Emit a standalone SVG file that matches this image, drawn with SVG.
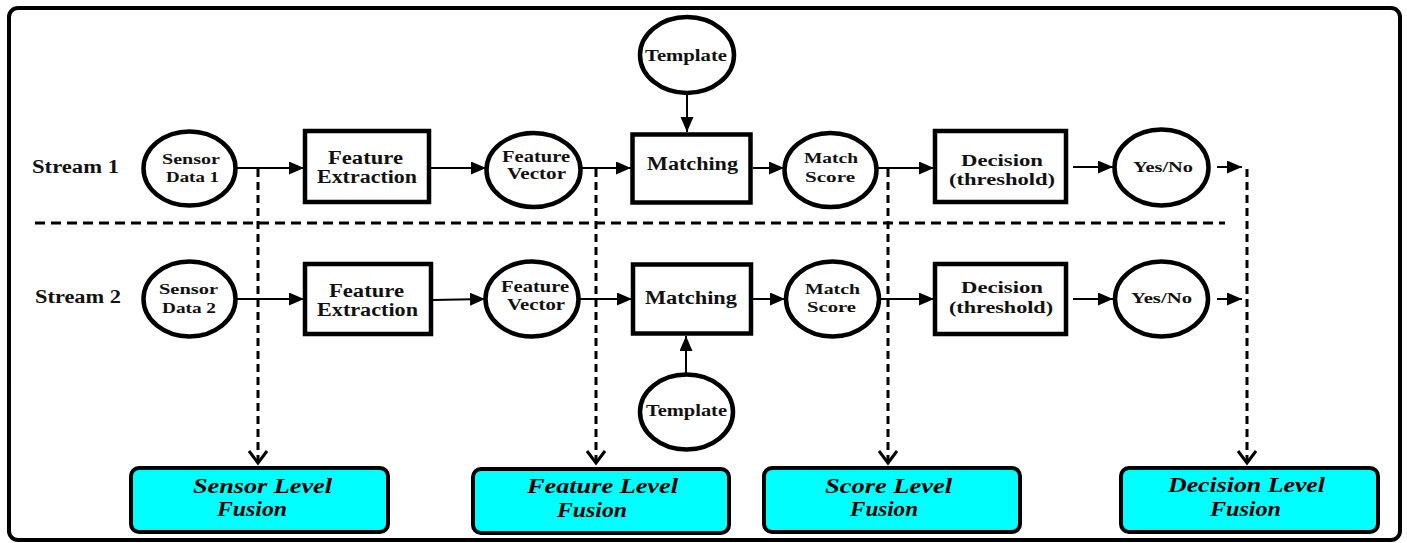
<svg xmlns="http://www.w3.org/2000/svg" width="1407" height="543" viewBox="0 0 1407 543">
<style>
.node{fill:#fff;stroke:#000;stroke-width:4.5}
.fus{fill:#00ffff;stroke:#000;stroke-width:4}
.t{font-family:"Liberation Serif","Times New Roman",serif;font-weight:bold;fill:#111}
.f{font-family:"Liberation Serif","Times New Roman",serif;font-weight:bold;font-style:italic;fill:#000;font-size:22px}
.a{stroke:#000;stroke-width:2;fill:none;marker-end:url(#ah)}
.d{stroke:#000;stroke-width:3;fill:none;stroke-dasharray:8 5;marker-end:url(#oh)}
</style>
<defs>
<marker id="ah" markerUnits="userSpaceOnUse" markerWidth="16" markerHeight="14" refX="15" refY="6.5" orient="auto"><path d="M0,0 L15,6.5 L0,13 z" fill="#000"/></marker>
<marker id="oh" markerUnits="userSpaceOnUse" markerWidth="16" markerHeight="24" refX="13" refY="10" orient="auto"><path d="M1,1 L13,10 L1,19" fill="none" stroke="#000" stroke-width="3"/></marker>
</defs>
<rect x="0" y="0" width="1407" height="543" fill="#fff"/>
<rect x="9" y="8" width="1391" height="532" rx="9" fill="none" stroke="#000" stroke-width="4"/>
<g id="labels">
<text class="t" x="32" y="173" font-size="18" textLength="87" lengthAdjust="spacingAndGlyphs">Stream 1</text>
<text class="t" x="35" y="303" font-size="18" textLength="86" lengthAdjust="spacingAndGlyphs">Stream 2</text>
</g>
<g id="divider"><line x1="35" y1="223" x2="1225" y2="223" stroke="#000" stroke-width="3" stroke-dasharray="10 6"/></g>
<g id="connectors">
<line class="a" x1="237" y1="168" x2="304" y2="168"/>
<line class="a" x1="431" y1="168" x2="486" y2="168"/>
<line class="a" x1="582" y1="168" x2="631" y2="168"/>
<line class="a" x1="753" y1="168" x2="784" y2="168"/>
<line class="a" x1="878" y1="168" x2="934" y2="168"/>
<line class="a" x1="1073" y1="167" x2="1113" y2="167"/>
<line class="a" x1="1217" y1="167" x2="1242" y2="167"/>
<line class="a" x1="687" y1="94" x2="687" y2="132"/>
<line class="a" x1="237" y1="299" x2="304" y2="299"/>
<line class="a" x1="433" y1="300" x2="485" y2="299"/>
<line class="a" x1="580" y1="299" x2="632" y2="299"/>
<line class="a" x1="753" y1="299" x2="785" y2="299"/>
<line class="a" x1="881" y1="299" x2="934" y2="299"/>
<line class="a" x1="1073" y1="299" x2="1113" y2="299"/>
<line class="a" x1="1217" y1="299" x2="1242" y2="299"/>
<line class="a" x1="686" y1="373" x2="686" y2="336"/>
<line class="d" x1="258" y1="169" x2="258" y2="463"/>
<line class="d" x1="596" y1="169" x2="596" y2="463"/>
<line class="d" x1="888" y1="169" x2="888" y2="463"/>
<line class="d" x1="1247" y1="169" x2="1247" y2="463"/>
</g>
<g id="sensor1"><ellipse class="node" cx="189.5" cy="168.5" rx="46" ry="37"/>
<text class="t" font-size="15" x="162" y="164" textLength="58" lengthAdjust="spacingAndGlyphs">Sensor</text>
<text class="t" font-size="15" x="166" y="182" textLength="53" lengthAdjust="spacingAndGlyphs">Data 1</text></g>
<g id="fe1"><rect class="node" x="305" y="131" width="124" height="71"/>
<text class="t" font-size="18" x="328" y="164" textLength="75" lengthAdjust="spacingAndGlyphs">Feature</text>
<text class="t" font-size="18" x="317" y="183" textLength="100" lengthAdjust="spacingAndGlyphs">Extraction</text></g>
<g id="fv1"><ellipse class="node" cx="533.5" cy="170" rx="47" ry="37"/>
<text class="t" font-size="16" x="502" y="162" textLength="68" lengthAdjust="spacingAndGlyphs">Feature</text>
<text class="t" font-size="16" x="507" y="179" textLength="59" lengthAdjust="spacingAndGlyphs">Vector</text></g>
<g id="tpl1"><ellipse class="node" cx="687" cy="55" rx="47" ry="38"/>
<text class="t" font-size="16" x="645" y="61" textLength="82" lengthAdjust="spacingAndGlyphs">Template</text></g>
<g id="match1"><rect class="node" x="632.5" y="134.5" width="118" height="68"/>
<text class="t" font-size="18" x="647" y="170" textLength="91" lengthAdjust="spacingAndGlyphs">Matching</text></g>
<g id="ms1"><ellipse class="node" cx="830.5" cy="170" rx="46" ry="37"/>
<text class="t" font-size="15" x="804" y="163" textLength="54" lengthAdjust="spacingAndGlyphs">Match</text>
<text class="t" font-size="15" x="805" y="182" textLength="50" lengthAdjust="spacingAndGlyphs">Score</text></g>
<g id="dec1"><rect class="node" x="935" y="131" width="131" height="71"/>
<text class="t" font-size="16" x="961" y="166" textLength="82" lengthAdjust="spacingAndGlyphs">Decision</text>
<text class="t" font-size="16" x="949" y="185" textLength="106" lengthAdjust="spacingAndGlyphs">(threshold)</text></g>
<g id="yn1"><ellipse class="node" cx="1161.5" cy="167.5" rx="47" ry="38"/>
<text class="t" font-size="15" x="1133" y="172" textLength="60" lengthAdjust="spacingAndGlyphs">Yes/No</text></g>
<g id="sensor2"><ellipse class="node" cx="189.5" cy="299" rx="46" ry="37.5"/>
<text class="t" font-size="15" x="159" y="294" textLength="59" lengthAdjust="spacingAndGlyphs">Sensor</text>
<text class="t" font-size="15" x="162" y="313" textLength="54" lengthAdjust="spacingAndGlyphs">Data 2</text></g>
<g id="fe2"><rect class="node" x="305" y="264" width="126" height="70"/>
<text class="t" font-size="18" x="329" y="297" textLength="75" lengthAdjust="spacingAndGlyphs">Feature</text>
<text class="t" font-size="18" x="317" y="316" textLength="101" lengthAdjust="spacingAndGlyphs">Extraction</text></g>
<g id="fv2"><ellipse class="node" cx="532" cy="299" rx="46.5" ry="37.5"/>
<text class="t" font-size="16" x="501" y="292" textLength="68" lengthAdjust="spacingAndGlyphs">Feature</text>
<text class="t" font-size="16" x="507" y="310" textLength="58" lengthAdjust="spacingAndGlyphs">Vector</text></g>
<g id="match2"><rect class="node" x="633" y="264.5" width="118" height="69"/>
<text class="t" font-size="18" x="645" y="304" textLength="92" lengthAdjust="spacingAndGlyphs">Matching</text></g>
<g id="tpl2"><ellipse class="node" cx="686.5" cy="412" rx="46.5" ry="37.5"/>
<text class="t" font-size="16" x="646" y="416" textLength="81" lengthAdjust="spacingAndGlyphs">Template</text></g>
<g id="ms2"><ellipse class="node" cx="832.5" cy="299" rx="46.5" ry="37.5"/>
<text class="t" font-size="15" x="805" y="294" textLength="55" lengthAdjust="spacingAndGlyphs">Match</text>
<text class="t" font-size="15" x="807" y="312" textLength="49" lengthAdjust="spacingAndGlyphs">Score</text></g>
<g id="dec2"><rect class="node" x="935" y="264" width="131" height="70"/>
<text class="t" font-size="16" x="961" y="293" textLength="82" lengthAdjust="spacingAndGlyphs">Decision</text>
<text class="t" font-size="16" x="949" y="313" textLength="104" lengthAdjust="spacingAndGlyphs">(threshold)</text></g>
<g id="yn2"><ellipse class="node" cx="1161.5" cy="299" rx="46.5" ry="37.5"/>
<text class="t" font-size="15" x="1131" y="303" textLength="61" lengthAdjust="spacingAndGlyphs">Yes/No</text></g>
<g id="fusion-sensor"><rect class="fus" x="131" y="468" width="257" height="64" rx="8"/>
<text class="f" x="193" y="493" textLength="139" lengthAdjust="spacingAndGlyphs">Sensor Level</text>
<text class="f" x="217" y="516" textLength="70" lengthAdjust="spacingAndGlyphs">Fusion</text></g>
<g id="fusion-feature"><rect class="fus" x="473" y="469" width="256" height="64" rx="8"/>
<text class="f" x="527" y="493" textLength="151" lengthAdjust="spacingAndGlyphs">Feature Level</text>
<text class="f" x="557" y="517" textLength="70" lengthAdjust="spacingAndGlyphs">Fusion</text></g>
<g id="fusion-score"><rect class="fus" x="764" y="468" width="256" height="64" rx="8"/>
<text class="f" x="825" y="493" textLength="127" lengthAdjust="spacingAndGlyphs">Score Level</text>
<text class="f" x="850" y="516" textLength="68" lengthAdjust="spacingAndGlyphs">Fusion</text></g>
<g id="fusion-decision"><rect class="fus" x="1121" y="468" width="257" height="64" rx="8"/>
<text class="f" x="1168" y="492" textLength="157" lengthAdjust="spacingAndGlyphs">Decision Level</text>
<text class="f" x="1210" y="516" textLength="71" lengthAdjust="spacingAndGlyphs">Fusion</text></g>
</svg>
